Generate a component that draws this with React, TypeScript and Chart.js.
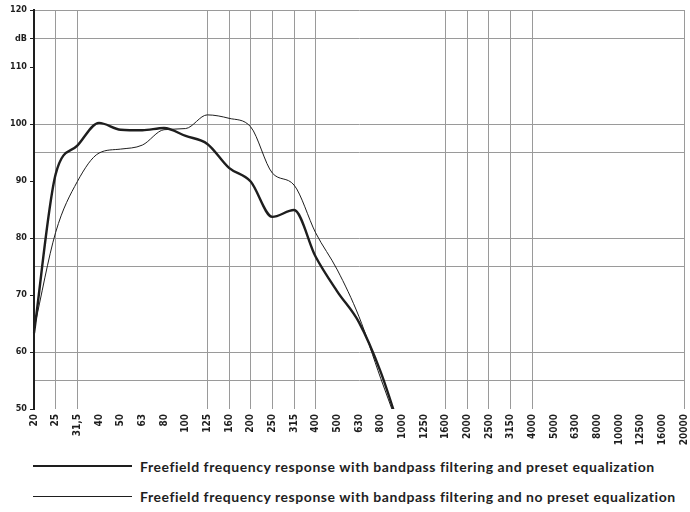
import React, { useEffect, useRef } from "react";
import { Chart, registerables } from "chart.js";

Chart.register(...registerables);

const frequencies = [
  "20", "25", "31,5", "40", "50", "63", "80", "100", "125", "160", "200", "250", "315", "400", "500", "630", "800", "1000",
  "1250", "1600", "2000", "2500", "3150", "4000", "5000", "6300", "8000", "10000", "12500", "16000", "20000",
];

const withPresetEq = [
  63.3, 91.2, 96.2, 100.2, 99.0, 98.9, 99.3, 97.9, 96.5, 92.3, 89.9, 83.7, 84.9, 76.7, 70.6, 65.2, 56.5, 45,
  null, null, null, null, null, null, null, null, null, null, null, null, null,
];

const withoutPresetEq = [
  64, 81.0, 89.9, 94.9, 95.6, 96.3, 99.0, 99.2, 101.6, 101.0, 99.5, 91.4, 89.3, 80.9, 74.4, 66.2, 55.4, 45,
  null, null, null, null, null, null, null, null, null, null, null, null, null,
];

const yLabels: Record<number, string> = {
  120: "120", 115: "dB", 110: "110", 100: "100", 90: "90", 80: "80", 70: "70", 60: "60", 50: "50",
};
const yGridValues = [120, 115, 100, 95, 80, 75, 60, 55];
const xGridLabels = ["25", "31,5", "125", "160", "200", "250", "315", "400", "1600", "2000", "2500", "3150", "4000", "20000"];

const legendItems = [
  { label: "Freefield frequency response with bandpass filtering and preset equalization", width: 2.2 },
  { label: "Freefield frequency response with bandpass filtering and no preset equalization", width: 1 },
];

const INK = "#1e1e1e";
const GRID = "#9a9a9a";

export default function App() {
  const ref = useRef<HTMLCanvasElement | null>(null);

  useEffect(() => {
    document.body.style.margin = "0";
    const canvas = ref.current;
    if (!canvas) return;
    const chart = new Chart(canvas, {
      type: "line",
      data: {
        labels: frequencies,
        datasets: [
          {
            label: legendItems[0].label,
            data: withPresetEq,
            borderColor: INK,
            borderWidth: 2.4,
            pointRadius: 0,
            cubicInterpolationMode: "monotone",
            fill: false,
          },
          {
            label: legendItems[1].label,
            data: withoutPresetEq,
            borderColor: INK,
            borderWidth: 1,
            pointRadius: 0,
            cubicInterpolationMode: "monotone",
            fill: false,
          },
        ],
      },
      options: {
        responsive: false,
        animation: false,
        layout: { padding: { top: 10, right: 6, left: 0, bottom: 0 } },
        plugins: { legend: { display: false }, tooltip: { enabled: false } },
        scales: {
          x: {
            type: "category",
            offset: false,
            afterFit: (s: any) => { s.height = 41; s.paddingLeft = 0; s.paddingRight = 0; },
            border: { display: false },
            grid: {
              offset: false,
              drawTicks: false,
              lineWidth: 1,
              color: (ctx: any) => {
                const lbl = frequencies[ctx.index];
                return xGridLabels.includes(lbl) ? GRID : "rgba(0,0,0,0)";
              },
            },
            ticks: {
              autoSkip: false,
              maxRotation: 90,
              minRotation: 90,
              padding: 5,
              color: INK,
              font: { family: "'DejaVu Sans Condensed', 'DejaVu Sans'", size: 10, weight: "bold" },
            },
          },
          y: {
            min: 50,
            max: 120,
            afterFit: (s: any) => { s.width = 34; s.paddingTop = 0; s.paddingBottom = 0; },
            border: { display: true, color: INK, width: 2 },
            grid: {
              lineWidth: 1,
              tickLength: 4,
              color: (ctx: any) => (yGridValues.includes(ctx.tick?.value) ? GRID : "rgba(0,0,0,0)"),
              tickColor: (ctx: any) => (yLabels[ctx.tick?.value] ? INK : "rgba(0,0,0,0)"),
            },
            ticks: {
              stepSize: 5,
              padding: 3,
              color: INK,
              font: { family: "'DejaVu Sans Condensed', 'DejaVu Sans'", size: 9, weight: "bold" },
              callback: (v: any) => yLabels[Number(v)] ?? "",
            },
          },
        },
      },
    });
    return () => chart.destroy();
  }, []);

  return (
    <div style={{ position: "fixed", left: 0, top: 0, width: 690, height: 512, background: "#fff" }}>
      <canvas ref={ref} width={690} height={450} style={{ display: "block" }} />
      {legendItems.map((item, i) => (
        <div
          key={i}
          style={{
            position: "absolute",
            left: 33,
            top: 456 + i * 30,
            height: 20,
            display: "flex",
            alignItems: "center",
            whiteSpace: "nowrap",
          }}
        >
          <div style={{ width: 99, height: item.width, background: INK }} />
          <span
            style={{
              marginLeft: 8,
              fontFamily: "Lato, 'Open Sans', sans-serif",
              fontWeight: 700,
              fontSize: 14,
              letterSpacing: "0.55px",
              color: INK,
            }}
          >
            {item.label}
          </span>
        </div>
      ))}
    </div>
  );
}
